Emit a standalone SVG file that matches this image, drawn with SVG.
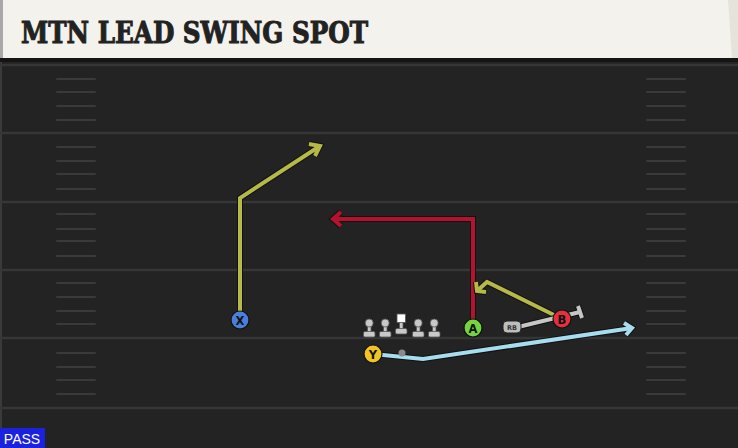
<svg xmlns="http://www.w3.org/2000/svg" width="738" height="448" viewBox="0 0 738 448">
<style>
.yard{stroke:#363636;stroke-width:2.5}
.hash{stroke:#3a3a3a;stroke-width:2;stroke-linecap:round}
.out{fill:none;stroke:#111;stroke-width:6;stroke-linejoin:miter;stroke-linecap:butt}
.rt{fill:none;stroke-width:4;stroke-linejoin:miter;stroke-linecap:butt}
.pl{stroke:#111;stroke-width:1.2}
.lbl{font-family:"DejaVu Sans","Liberation Sans",sans-serif;font-weight:bold;font-size:11.5px;fill:#111;text-anchor:middle}
.ol{fill:#c9c9c9;stroke:#555;stroke-width:0.8}
</style>
<rect x="0" y="0" width="738" height="448" fill="#232323"/>
<rect x="0" y="60" width="2" height="388" fill="#3a3a3a"/>
<g id="field">
<line class="yard" x1="0" y1="65" x2="738" y2="65"/>
<line class="yard" x1="0" y1="133" x2="738" y2="133"/>
<line class="yard" x1="0" y1="202" x2="738" y2="202"/>
<line class="yard" x1="0" y1="270" x2="738" y2="270"/>
<line class="yard" x1="0" y1="338" x2="738" y2="338"/>
<line class="yard" x1="0" y1="408" x2="738" y2="408"/>
<g id="hashL">
<line class="hash" x1="57" y1="79" x2="95" y2="79"/><line class="hash" x1="57" y1="92" x2="95" y2="92"/><line class="hash" x1="57" y1="106" x2="95" y2="106"/><line class="hash" x1="57" y1="120" x2="95" y2="120"/>
<line class="hash" x1="57" y1="147" x2="95" y2="147"/><line class="hash" x1="57" y1="161" x2="95" y2="161"/><line class="hash" x1="57" y1="174" x2="95" y2="174"/><line class="hash" x1="57" y1="189" x2="95" y2="189"/>
<line class="hash" x1="57" y1="214" x2="95" y2="214"/><line class="hash" x1="57" y1="229" x2="95" y2="229"/><line class="hash" x1="57" y1="241" x2="95" y2="241"/><line class="hash" x1="57" y1="256" x2="95" y2="256"/>
<line class="hash" x1="57" y1="283" x2="95" y2="283"/><line class="hash" x1="57" y1="297" x2="95" y2="297"/><line class="hash" x1="57" y1="311" x2="95" y2="311"/><line class="hash" x1="57" y1="324" x2="95" y2="324"/>
<line class="hash" x1="57" y1="353" x2="95" y2="353"/><line class="hash" x1="57" y1="367" x2="95" y2="367"/><line class="hash" x1="57" y1="380" x2="95" y2="380"/><line class="hash" x1="57" y1="394" x2="95" y2="394"/>
</g>
<g id="hashR">
<line class="hash" x1="647" y1="79" x2="685" y2="79"/><line class="hash" x1="647" y1="92" x2="685" y2="92"/><line class="hash" x1="647" y1="106" x2="685" y2="106"/><line class="hash" x1="647" y1="120" x2="685" y2="120"/>
<line class="hash" x1="647" y1="147" x2="685" y2="147"/><line class="hash" x1="647" y1="161" x2="685" y2="161"/><line class="hash" x1="647" y1="174" x2="685" y2="174"/><line class="hash" x1="647" y1="189" x2="685" y2="189"/>
<line class="hash" x1="647" y1="214" x2="685" y2="214"/><line class="hash" x1="647" y1="229" x2="685" y2="229"/><line class="hash" x1="647" y1="241" x2="685" y2="241"/><line class="hash" x1="647" y1="256" x2="685" y2="256"/>
<line class="hash" x1="647" y1="283" x2="685" y2="283"/><line class="hash" x1="647" y1="297" x2="685" y2="297"/><line class="hash" x1="647" y1="311" x2="685" y2="311"/><line class="hash" x1="647" y1="324" x2="685" y2="324"/>
<line class="hash" x1="647" y1="353" x2="685" y2="353"/><line class="hash" x1="647" y1="367" x2="685" y2="367"/><line class="hash" x1="647" y1="380" x2="685" y2="380"/><line class="hash" x1="647" y1="394" x2="685" y2="394"/>
</g>
</g>
<g id="header">
<rect x="0" y="0" width="738" height="59" fill="#f4f2ec"/>
<rect x="0" y="0" width="3" height="59" fill="#a8a8a8"/>
<polygon points="728,0 738,0 738,59 732,59" fill="#e6e3da"/>
<rect x="0" y="58" width="738" height="4" fill="#151515"/>
<text x="21" y="43" font-family="'DejaVu Serif','Liberation Serif',serif" font-weight="bold" font-size="29" fill="#222" stroke="#222" stroke-width="1" textLength="347" lengthAdjust="spacingAndGlyphs">MTN LEAD SWING SPOT</text>
</g>
<g id="connectors">
<g id="routeX">
<polyline class="out" points="240,320 240,198 320,146"/>
<polyline class="out" points="309,144 320,146 315,156"/>
<polyline class="rt" stroke="#b6b848" points="240,320 240,198 320,146"/>
<polyline class="rt" stroke="#b6b848" points="309,144 320,146 315,156"/>
</g>
<g id="routeA">
<polyline class="out" points="473,328 473,219 333,219"/>
<polyline class="out" points="341,212 333,219 341,226"/>
<polyline class="rt" stroke="#b3132f" points="473,328 473,219 333,219"/>
<polyline class="rt" stroke="#b3132f" points="341,212 333,219 341,226"/>
</g>
<g id="routeB">
<polyline class="out" points="556,316 487,282 477,291"/>
<polyline class="out" points="476,282 477,291 486,292"/>
<polyline class="rt" stroke="#b6b848" points="556,316 487,282 477,291"/>
<polyline class="rt" stroke="#b6b848" points="476,282 477,291 486,292"/>
</g>
<g id="blockRB">
<line x1="518" y1="327" x2="580" y2="312" stroke="#111" stroke-width="6"/>
<line x1="578" y1="306" x2="582" y2="318" stroke="#111" stroke-width="6"/>
<line x1="518" y1="327" x2="580" y2="312" stroke="#c6c6c6" stroke-width="4"/>
<line x1="578" y1="306" x2="582" y2="318" stroke="#c6c6c6" stroke-width="4"/>
</g>
<g id="routeY">
<polyline class="out" points="373,354 423,359 632,328"/>
<polyline class="out" points="624,323 632,328 626,335"/>
<polyline class="rt" stroke="#a6def0" points="373,354 423,359 632,328"/>
<polyline class="rt" stroke="#a6def0" points="624,323 632,328 626,335"/>
</g>
</g>
<g id="line">
<g id="lt"><rect class="ol" x="367.5" y="324" width="3.5" height="9"/><rect class="ol" x="363.5" y="331.5" width="11.5" height="5.5" rx="1.5"/><circle class="ol" cx="369.2" cy="323" r="4"/></g>
<g id="lg"><rect class="ol" x="383.5" y="324" width="3.5" height="9"/><rect class="ol" x="379.5" y="331.5" width="11.5" height="5.5" rx="1.5"/><circle class="ol" cx="385.2" cy="323" r="4"/></g>
<g id="c"><rect class="ol" x="399.5" y="322" width="3.5" height="8"/><rect class="ol" x="395.5" y="328.5" width="11.5" height="5.5" rx="1.5"/><rect x="397" y="314" width="8.5" height="8.5" fill="#fff" stroke="#555" stroke-width="0.8"/></g>
<g id="rg"><rect class="ol" x="416.5" y="324" width="3.5" height="9"/><rect class="ol" x="412.5" y="331.5" width="11.5" height="5.5" rx="1.5"/><circle class="ol" cx="418.2" cy="323" r="4"/></g>
<g id="rt"><rect class="ol" x="432.5" y="324" width="3.5" height="9"/><rect class="ol" x="428.5" y="331.5" width="11.5" height="5.5" rx="1.5"/><circle class="ol" cx="434.2" cy="323" r="4"/></g>
<g id="qb"><circle cx="402" cy="353" r="3.5" fill="#8a8a8a"/></g>
</g>
<g id="RB"><rect x="503" y="321" width="18" height="12" rx="4" fill="#bdbdbd" stroke="#222" stroke-width="1"/><text x="512" y="330" font-family="'DejaVu Sans','Liberation Sans',sans-serif" font-size="6.5" font-weight="bold" fill="#333" text-anchor="middle">RB</text></g>
<g id="X"><circle class="pl" cx="240" cy="320" r="9" fill="#4a7fdc"/><text class="lbl" x="240" y="324.5">X</text></g>
<g id="Y"><circle class="pl" cx="373" cy="354" r="9" fill="#f2c423"/><text class="lbl" x="373" y="358.5">Y</text></g>
<g id="A"><circle class="pl" cx="473" cy="328" r="9" fill="#72d63c"/><text class="lbl" x="473" y="332.5">A</text></g>
<g id="B"><circle class="pl" cx="562" cy="319" r="9" fill="#e2303c"/><text class="lbl" x="562" y="323.5">B</text></g>
<g id="pass"><rect x="0" y="428" width="45" height="20" fill="#1a22e0"/><text x="22" y="444" font-family="'Liberation Sans',Arial,sans-serif" font-size="14" fill="#fff" text-anchor="middle">PASS</text></g>
</svg>
